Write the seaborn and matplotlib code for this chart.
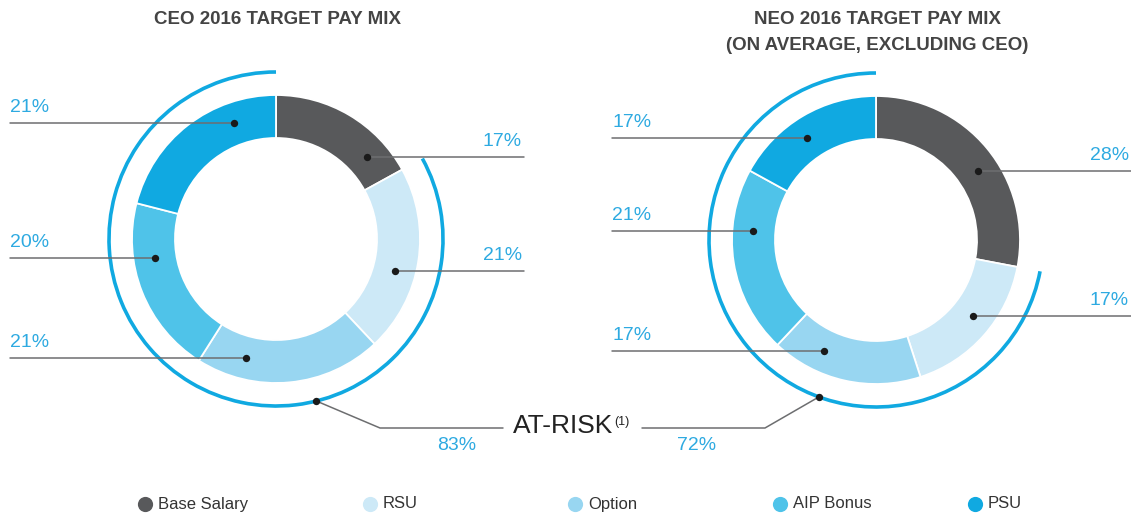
import numpy as np
import pandas as pd
import matplotlib
matplotlib.use("Agg")
import matplotlib.pyplot as plt
from matplotlib.patches import Arc
import seaborn as sns

# pay mix data (percent of target pay)
categories = ["Base Salary", "RSU", "Option", "AIP Bonus", "PSU"]
ceo_mix = [17, 21, 21, 20, 21]
neo_mix = [28, 17, 17, 21, 17]
seg_colors = ["#58595b", "#cde9f7", "#98d6f1", "#4fc3e9", "#10a9e1"]

ceo_title = ["CEO 2016 TARGET PAY MIX"]
neo_title = ["NEO 2016 TARGET PAY MIX", "(ON AVERAGE, EXCLUDING CEO)"]

W, H = 1131, 519
BLUE = "#2eaae1"
ARC_BLUE = "#10a9e1"
TXT = "#333333"
LINE = "#6d6e70"
R_OUT, R_W, R_DOT, R_ARC = 144, 43, 123, 167


def Y(y):
    return H - y


def polar(cx, cy, r, ang):
    # ang in degrees, clockwise from 12 o'clock, pixel coords
    a = np.radians(ang)
    return cx + r * np.sin(a), cy - r * np.cos(a)


sns.set_theme(style="white")
plt.rcParams["font.family"] = ["Liberation Sans", "DejaVu Sans"]

fig = plt.figure(figsize=(W / 100, H / 100), dpi=100)
ax = fig.add_axes([0, 0, 1, 1])

# callout placement (angle of the dot on the ring)
charts = [
    dict(values=ceo_mix, title=ceo_title, c=(276, 239), left=10, right=524,
         ang={"Base Salary": 48, "RSU": 105, "Option": 194, "AIP Bonus": 261, "PSU": 340},
         risk_ang=166, risk_corner=380, risk_end=503, risk_lab=457),
    dict(values=neo_mix, title=neo_title, c=(876, 240), left=612, right=1131,
         ang={"Base Salary": 56, "RSU": 128, "Option": 205, "AIP Bonus": 274, "PSU": 326},
         risk_ang=200, risk_corner=765, risk_end=642, risk_lab=697),
]
right_side = {"Base Salary", "RSU"}

dots = []
for ch in charts:
    cx, cy = ch["c"]
    ax.pie(ch["values"], colors=seg_colors, startangle=90, counterclock=False,
           radius=R_OUT, center=(cx, Y(cy)),
           wedgeprops=dict(width=R_W, edgecolor="white", linewidth=1.3))
    at_risk = 100 - ch["values"][0]
    ax.add_patch(Arc((cx, Y(cy)), 2 * R_ARC, 2 * R_ARC, theta1=90,
                     theta2=90 + 3.6 * at_risk, color=ARC_BLUE, lw=2.6))
    for i, line in enumerate(ch["title"]):
        ax.text(cx + 1, Y(19 + 26 * i), line, ha="center", va="center",
                fontsize=13.5, fontweight="bold", color="#444444")

    for cat, val in zip(categories, ch["values"]):
        x, y = polar(cx, cy, R_DOT, ch["ang"][cat])
        dots.append((x, Y(y)))
        if cat in right_side:
            ax.plot([x, ch["right"]], [Y(y), Y(y)], color=LINE, lw=1.1, zorder=3)
            ax.text(ch["right"] - 2, Y(y - 7), f"{val}%", ha="right", va="bottom",
                    fontsize=14, color=BLUE)
        else:
            ax.plot([ch["left"], x], [Y(y), Y(y)], color=LINE, lw=1.1, zorder=3)
            ax.text(ch["left"], Y(y - 7), f"{val}%", ha="left", va="bottom",
                    fontsize=14, color=BLUE)

    # at-risk callout
    rx, ry = polar(cx, cy, R_ARC, ch["risk_ang"])
    dots.append((rx, Y(ry)))
    ax.plot([rx, ch["risk_corner"], ch["risk_end"]], [Y(ry), Y(428), Y(428)],
            color=LINE, lw=1.1, zorder=3)
    ax.text(ch["risk_lab"], Y(446), f"{at_risk}%", ha="center", va="center",
            fontsize=14, color=BLUE)

dot_df = pd.DataFrame(dots, columns=["x", "y"])
sns.scatterplot(data=dot_df, x="x", y="y", color="#1a1a1a", s=28, ax=ax,
                legend=False, zorder=5, linewidth=0)

ax.text(513, Y(426), "AT-RISK", ha="left", va="center", fontsize=19, color="#222222")
ax.text(614, Y(416), "(1)", ha="left", va="top", fontsize=9, color="#222222")

# legend row
leg_x = [145, 370, 575, 780, 975]
for lx, cat, col in zip(leg_x, categories, seg_colors):
    ax.scatter([lx], [Y(504)], s=120, color=col, linewidth=0)
    ax.text(lx + 13, Y(504), cat, ha="left", va="center", fontsize=12, color=TXT)

ax.set_xlim(0, W)
ax.set_ylim(0, H)
ax.set_aspect("equal")
ax.axis("off")

fig.savefig("out.png", dpi=100)
